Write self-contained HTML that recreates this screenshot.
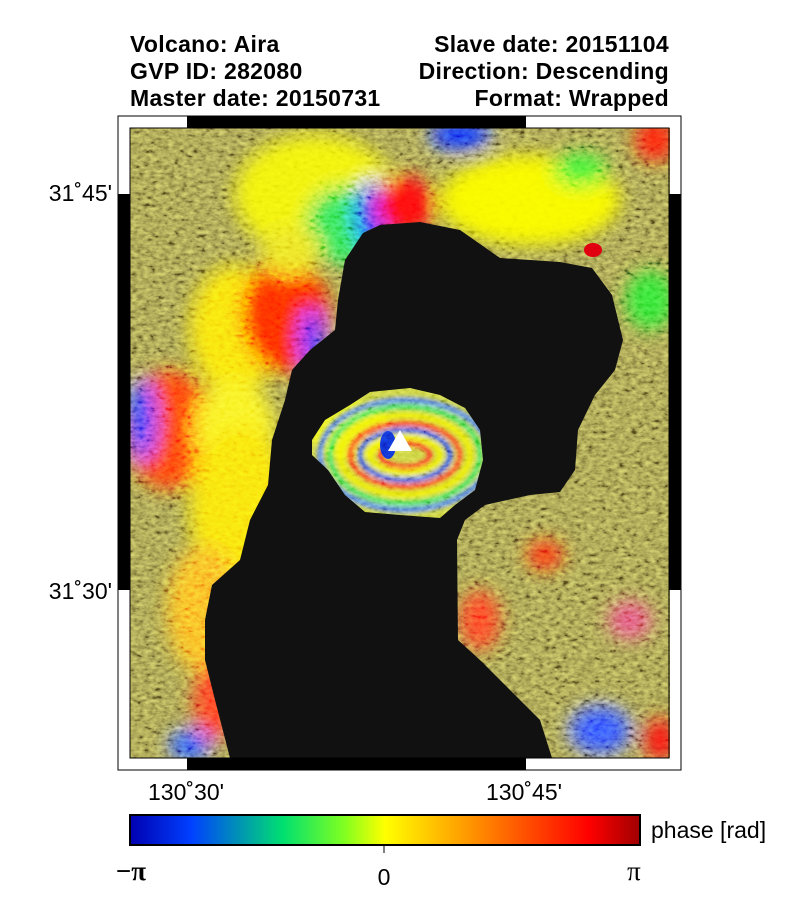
<!DOCTYPE html>
<html><head><meta charset="utf-8">
<style>
html,body{margin:0;padding:0;background:#fff;}
body{width:800px;height:900px;position:relative;overflow:hidden;font-family:"Liberation Sans",sans-serif;}
.h{position:absolute;font-weight:bold;font-size:23px;color:#000;white-space:nowrap;letter-spacing:0.3px;}
.l{left:130px}.r{right:131px;text-align:right}
.ax{position:absolute;font-size:23px;color:#000;white-space:nowrap;}
</style></head>
<body>
<div class="h l" style="top:31px">Volcano: Aira</div>
<div class="h l" style="top:58px">GVP ID: 282080</div>
<div class="h l" style="top:85px">Master date: 20150731</div>
<div class="h r" style="top:31px">Slave date: 20151104</div>
<div class="h r" style="top:58px">Direction: Descending</div>
<div class="h r" style="top:85px">Format: Wrapped</div>

<svg width="800" height="900" style="position:absolute;left:0;top:0">
<defs>
<clipPath id="mapclip"><rect x="130" y="128" width="540" height="630"/></clipPath>
<filter id="blur" x="-20%" y="-20%" width="140%" height="140%"><feGaussianBlur stdDeviation="9"/></filter>
<filter id="blur2"><feGaussianBlur stdDeviation="2.5"/></filter>
<filter id="tex" x="0" y="0" width="100%" height="100%">
<feTurbulence type="fractalNoise" baseFrequency="0.16 0.26" numOctaves="3" seed="4"/>
<feColorMatrix type="matrix" values="0.33 0.33 0.33 0 0  0.33 0.33 0.33 0 0  0.33 0.33 0.33 0 0  0 0 0 0 1"/>
<feComponentTransfer><feFuncR type="linear" slope="2.6" intercept="-0.8"/><feFuncG type="linear" slope="2.6" intercept="-0.8"/><feFuncB type="linear" slope="2.6" intercept="-0.8"/></feComponentTransfer>
</filter>
<linearGradient id="jet" x1="0" x2="1" y1="0" y2="0">
<stop offset="0" stop-color="#0000b0"/><stop offset="0.12" stop-color="#0040ff"/>
<stop offset="0.3" stop-color="#00e070"/><stop offset="0.42" stop-color="#80ff20"/>
<stop offset="0.5" stop-color="#ffff00"/><stop offset="0.65" stop-color="#ffa000"/>
<stop offset="0.8" stop-color="#ff4000"/><stop offset="0.9" stop-color="#ff0000"/>
<stop offset="1" stop-color="#a00000"/>
</linearGradient>
</defs>

<g clip-path="url(#mapclip)">
<rect x="130" y="128" width="540" height="630" fill="#968f48"/>
<g filter="url(#blur)">
<ellipse cx="315" cy="195" rx="80" ry="60" fill="#f0f010"/>
<ellipse cx="345" cy="225" rx="40" ry="40" fill="#30e050"/>
<ellipse cx="372" cy="215" rx="18" ry="35" fill="#1030ff"/>
<ellipse cx="405" cy="205" rx="30" ry="30" fill="#ff1010"/>
<ellipse cx="460" cy="135" rx="30" ry="15" fill="#1030ff"/>
<ellipse cx="530" cy="200" rx="90" ry="45" fill="#f8f800"/>
<ellipse cx="580" cy="170" rx="28" ry="18" fill="#40f030"/>
<ellipse cx="655" cy="140" rx="20" ry="22" fill="#ff2010"/>
<ellipse cx="650" cy="300" rx="25" ry="30" fill="#30e030"/>
<ellipse cx="235" cy="330" rx="45" ry="65" fill="#f8e010"/>
<ellipse cx="285" cy="315" rx="45" ry="58" fill="#ff2a00"/>
<ellipse cx="312" cy="340" rx="12" ry="30" fill="#1030ff"/>
<ellipse cx="290" cy="250" rx="30" ry="25" fill="#e8e020"/>
<ellipse cx="170" cy="430" rx="45" ry="60" fill="#ff4010"/>
<ellipse cx="142" cy="420" rx="14" ry="40" fill="#1040ff"/>
<ellipse cx="235" cy="430" rx="40" ry="50" fill="#f8f020"/>
<ellipse cx="240" cy="510" rx="50" ry="85" fill="#f8e010"/>
<ellipse cx="205" cy="610" rx="38" ry="65" fill="#f8b020"/>
<ellipse cx="215" cy="700" rx="22" ry="40" fill="#ff4020"/>
<ellipse cx="190" cy="745" rx="20" ry="15" fill="#2050ff"/>
<ellipse cx="545" cy="555" rx="18" ry="15" fill="#ff3010"/>
<ellipse cx="630" cy="620" rx="22" ry="20" fill="#e05070"/>
<ellipse cx="600" cy="730" rx="30" ry="24" fill="#3050ff"/>
<ellipse cx="660" cy="740" rx="15" ry="22" fill="#ff1010"/>
<ellipse cx="480" cy="620" rx="20" ry="30" fill="#ff4020"/>
</g>
<rect x="130" y="128" width="540" height="630" filter="url(#tex)" opacity="0.6" style="mix-blend-mode:overlay"/>
<ellipse cx="593" cy="250" rx="9" ry="7" fill="#e00010"/>
<polygon fill="#111111" points="363,233 380,225 420,222 460,230 500,258 560,262 592,268 612,295 623,340 615,370 595,395 578,430 575,470 560,492 530,495 485,505 465,520 457,540 458,640 480,660 510,690 540,720 552,758 230,758 215,700 205,660 205,620 212,585 240,560 250,520 268,485 272,440 285,400 292,370 310,350 335,330 338,300 345,260"/>
<g>
<clipPath id="isl"><polygon points="312,440 325,420 350,405 370,392 410,388 440,395 465,408 480,430 483,460 475,490 455,505 440,518 400,515 365,512 345,495 328,470 312,455"/></clipPath>
<g clip-path="url(#isl)">
<rect x="300" y="380" width="190" height="145" fill="#c8d040"/>
<ellipse cx="350" cy="430" rx="40" ry="30" fill="#e8f020" filter="url(#blur2)"/>
<g fill="none" stroke-width="5" filter="url(#blur2)">
<ellipse cx="405" cy="455" rx="85" ry="55" stroke="#3060ff"/>
<ellipse cx="405" cy="455" rx="75" ry="48" stroke="#30e060"/>
<ellipse cx="405" cy="455" rx="65" ry="40" stroke="#f0f000"/>
<ellipse cx="405" cy="455" rx="55" ry="32" stroke="#ff3020"/>
<ellipse cx="405" cy="455" rx="45" ry="25" stroke="#2040ff"/>
<ellipse cx="405" cy="455" rx="35" ry="18" stroke="#f0f000"/>
<ellipse cx="405" cy="455" rx="25" ry="12" stroke="#ff2020"/>
</g>
<ellipse cx="388" cy="445" rx="8" ry="14" fill="#1030d0"/>
<rect x="300" y="380" width="190" height="145" filter="url(#tex)" opacity="0.45" style="mix-blend-mode:overlay"/>
</g>
</g>
<polygon points="400,430 388,451 412,451" fill="#ffffff"/>
</g>

<g>
<rect x="118" y="116" width="563" height="654" fill="none" stroke="#000" stroke-width="1"/>
<rect x="130" y="128" width="539" height="630" fill="none" stroke="#000" stroke-width="1"/>
<rect x="187" y="116" width="339" height="12" fill="#000"/>
<rect x="187" y="758" width="339" height="12" fill="#000"/>
<rect x="118" y="194" width="12" height="396" fill="#000"/>
<rect x="669" y="194" width="12" height="396" fill="#000"/>
</g>

<g>
<rect x="130" y="815" width="510" height="30" fill="url(#jet)" stroke="#000" stroke-width="2"/>
<line x1="384" y1="845" x2="384" y2="853" stroke="#000" stroke-width="1"/>
<text x="651" y="838" font-size="23" font-family="Liberation Sans, sans-serif">phase [rad]</text>
<text x="131" y="880" font-size="27" font-weight="bold" font-family="Liberation Serif, serif" text-anchor="middle">−π</text>
<text x="384" y="885" font-size="23" font-family="Liberation Sans, sans-serif" text-anchor="middle">0</text>
<text x="634" y="880" font-size="27" font-family="Liberation Serif, serif" text-anchor="middle">π</text>
</g>
</svg>

<div class="ax" style="right:688px;top:180px">31˚45'</div>
<div class="ax" style="right:688px;top:578px">31˚30'</div>
<div class="ax" style="left:148px;top:779px">130˚30'</div>
<div class="ax" style="left:486px;top:779px">130˚45'</div>
</body></html>
